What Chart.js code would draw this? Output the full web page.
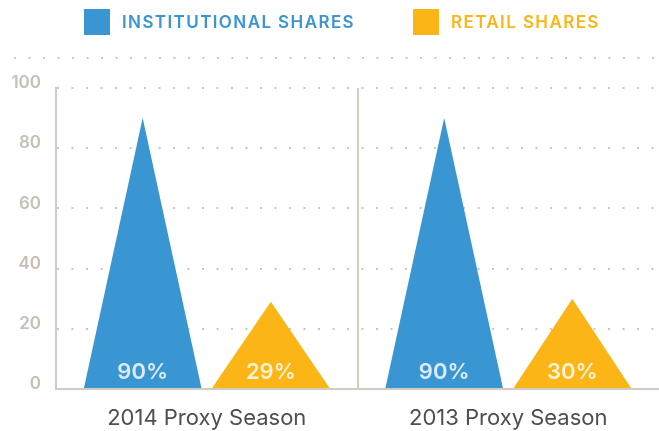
<!DOCTYPE html>
<html>
<head>
<meta charset="utf-8">
<script src="https://cdn.jsdelivr.net/npm/chart.js@4.4.1/dist/chart.umd.min.js"></script>
<style>
  html, body { margin: 0; padding: 0; background: #fff; }
  #wrap { position: relative; width: 659px; height: 431px; }
  #chart { position: absolute; left: 0; top: 0; }
  .legend-item { position: absolute; top: 9px; height: 26px; display: flex; align-items: center;
    font-family: Inter, sans-serif; font-weight: 600; font-size: 17px; letter-spacing: 1.4px; }
  .legend-item .box { width: 26px; height: 26px; margin-right: 12px; }
</style>
</head>
<body>
<div id="wrap">
  <canvas id="chart" width="659" height="431"></canvas>
  <div id="legend"></div>
</div>
<script>
// データ
const categories = ['2014 Proxy Season', '2013 Proxy Season'];
const institutional = [90, 90];
const retail = [29, 30];
const yTicks = [0, 20, 40, 60, 80, 100];
const seriesNames = ['INSTITUTIONAL SHARES', 'RETAIL SHARES'];
const seriesColors = ['#3a95d3', '#fbb517'];

const gridColor = '#cdc8bf';
const axisColor = '#d0cbc3';

// 凡例 (HTML)
const legendLeft = [84, 413];
const legend = document.getElementById('legend');
seriesNames.forEach((name, i) => {
    const item = document.createElement('div');
    item.className = 'legend-item';
    item.style.left = legendLeft[i] + 'px';
    item.style.color = seriesColors[i];
    item.innerHTML = `<span class="box" style="background:${seriesColors[i]}"></span><span>${name}</span>`;
    legend.appendChild(item);
});

// 棒を三角形で描く
const trianglePlugin = {
    id: 'triangles',
    beforeDatasetDraw(chart, args) {
        const ctx = chart.ctx;
        const ds = chart.data.datasets[args.index];
        ctx.save();
        args.meta.data.forEach((bar, i) => {
            const { x, y, base, width } = bar.getProps(['x', 'y', 'base', 'width'], true);
            ctx.fillStyle = ds.backgroundColor;
            ctx.beginPath();
            ctx.moveTo(x - width / 2, base);
            ctx.lineTo(x, y);
            ctx.lineTo(x + width / 2, base);
            ctx.closePath();
            ctx.fill();
            ctx.fillStyle = 'rgba(255,255,255,0.82)';
            ctx.font = '600 22px Inter';
            ctx.textAlign = 'center';
            ctx.textBaseline = 'middle';
            ctx.fillText(ds.data[i] + '%', x, base - 16);
        });
        ctx.restore();
        return false;
    }
};

// 一番上の点線
const topLinePlugin = {
    id: 'topLine',
    beforeDatasetsDraw(chart) {
        const ctx = chart.ctx;
        const y = Math.round(chart.scales.y.getPixelForValue(110));
        ctx.save();
        ctx.strokeStyle = gridColor;
        ctx.lineWidth = 2;
        ctx.setLineDash([2, 12.5]);
        ctx.beginPath();
        ctx.moveTo(14, y);
        ctx.lineTo(chart.width, y);
        ctx.stroke();
        ctx.restore();
    }
};

new Chart(document.getElementById('chart'), {
    type: 'bar',
    data: {
        labels: categories,
        datasets: [
            { label: seriesNames[0], data: institutional, backgroundColor: seriesColors[0] },
            { label: seriesNames[1], data: retail, backgroundColor: seriesColors[1] }
        ]
    },
    options: {
        responsive: false,
        animation: false,
        categoryPercentage: 0.85,
        barPercentage: 0.917,
        layout: { autoPadding: false, padding: { top: 88, left: 10, right: 0, bottom: 0 } },
        plugins: {
            legend: { display: false },
            tooltip: { enabled: false }
        },
        scales: {
            x: {
                afterFit: s => { s.height = 42; },
                grid: {
                    offset: true,
                    drawTicks: false,
                    lineWidth: 2,
                    color: c => c.type === 'tick' ? axisColor : 'transparent'
                },
                border: { color: axisColor, width: 2, z: 1 },
                ticks: {
                    padding: 16,
                    maxRotation: 0,
                    autoSkip: false,
                    color: '#4f4f4f',
                    font: { family: 'Inter', size: 22, weight: '400' }
                }
            },
            y: {
                min: 0,
                max: 100,
                afterBuildTicks: scale => { scale.ticks = yTicks.map(v => ({ value: v })); },
                afterFit: s => { s.width = 46; },
                grid: { color: gridColor, lineWidth: 2, drawTicks: false },
                border: { color: axisColor, width: 2, dash: [2, 12.5] },
                ticks: {
                    padding: 15,
                    labelOffset: -5,
                    color: '#c6c0b6',
                    font: { family: 'Inter', size: 17, weight: '600' }
                }
            }
        }
    },
    plugins: [trianglePlugin, topLinePlugin]
});
</script>
</body>
</html>
